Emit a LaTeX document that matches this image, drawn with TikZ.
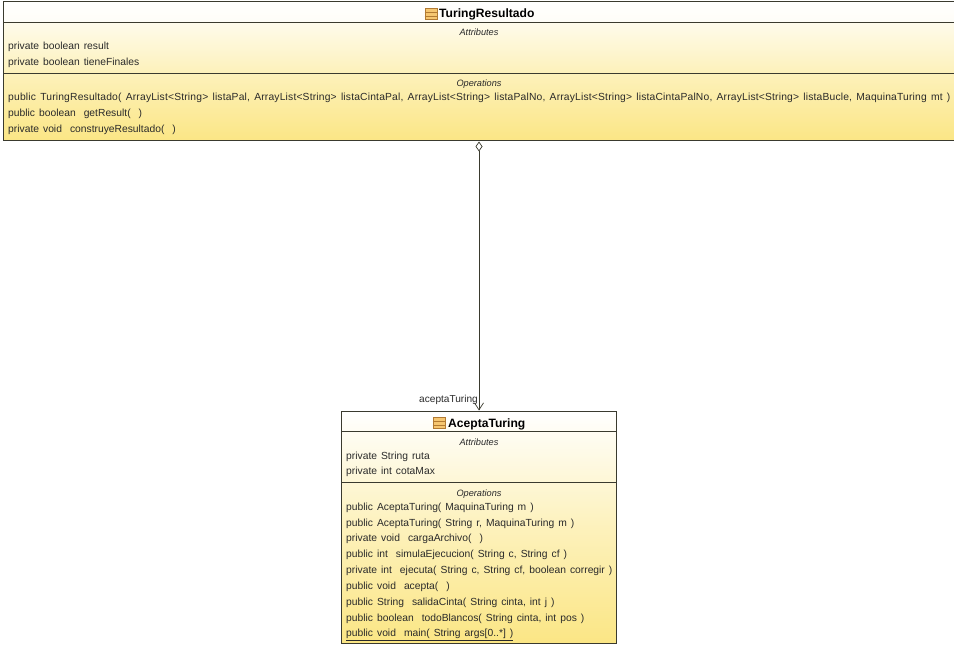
\documentclass[tikz,border=0pt]{standalone}
\usepackage{fontspec}
\setmainfont[WordSpace=1.4]{Liberation Sans}
\usetikzlibrary{arrows.meta}
\definecolor{umlyellow}{HTML}{FBE685}
\definecolor{umlline}{HTML}{3A3A2E}
\definecolor{icoF}{HTML}{F6C670}
\definecolor{icoL}{HTML}{B27A32}
\definecolor{txt}{HTML}{2A2A2A}
\tikzset{
  x=1pt,y=-1pt,
  classbox/.style={draw=umlline,line width=1pt,rectangle,inner sep=0pt,top color=white,bottom color=umlyellow,middle color=white!45!umlyellow},
  member/.style={anchor=base west,inner sep=0pt,font=\fontsize{10.3}{12}\selectfont,text=txt},
  header/.style={anchor=base,inner sep=0pt,font=\fontsize{9.2}{11}\selectfont\itshape,text=txt},
  classtitle/.style={anchor=base west,inner sep=0pt,font=\fontsize{12.1}{14}\selectfont\bfseries,text=black},
  divider/.style={draw=umlline,line width=.9pt},
  rolelabel/.style={anchor=base east,inner sep=0pt,font=\fontsize{10.1}{12}\selectfont,text=txt},
  assoc/.style={draw=umlline,line width=.7pt,{Diamond[open,length=10pt,width=7pt,fill=white]}-{Straight Barb[length=7pt,width=9pt,line width=.7pt]}},
  icon/.style={rectangle,draw=icoL,fill=icoF,line width=.6pt,minimum width=12pt,minimum height=11pt,inner sep=0pt}
}
\begin{document}
\begin{tikzpicture}
\useasboundingbox (0,0) rectangle (954,650);
% Class boxes
\node[classbox,minimum width=951pt,minimum height=139pt] (resultado) at (478.5,71.5) {};
\node[classbox,minimum width=275pt,minimum height=232pt] (acepta) at (479,527) {};
% TuringResultado
\fill[white,opacity=.6] (3.5,2.5) rectangle (953.5,22);
\node[icon] (icoR) at (431,14) {};
\draw[icoL,line width=.5pt] (icoR.west |- 0,12.5) -- (icoR.east |- 0,12.5) (icoR.west |- 0,16) -- (icoR.east |- 0,16);
\node[classtitle] (titleR) at (439,18) {TuringResultado};
\draw[divider] (3,22) -- (954,22);
\draw[divider] (3,73) -- (954,73);
\node[header] (attrR) at (479,36) {Attributes};
\node[member] (r1) at (8,50) {private boolean result};
\node[member] (r2) at (8,65.5) {private boolean tieneFinales};
\node[header] (opR) at (479,87) {Operations};
\node[member] (r3) at (8,101) {\addfontfeature{LetterSpace=1.75}public TuringResultado( ArrayList<String> listaPal, ArrayList<String> listaCintaPal, ArrayList<String> listaPalNo, ArrayList<String> listaCintaPalNo, ArrayList<String> listaBucle, MaquinaTuring mt )};
\node[member] (r4) at (8,117) {public boolean~~getResult(~~)};
\node[member] (r5) at (8,133) {private void~~construyeResultado(~~)};
% AceptaTuring
\node[icon] (icoA) at (439,423) {};
\draw[icoL,line width=.5pt] (icoA.west |- 0,421.5) -- (icoA.east |- 0,421.5) (icoA.west |- 0,425) -- (icoA.east |- 0,425);
\node[classtitle] (titleA) at (448,427) {AceptaTuring};
\draw[divider] (341.5,431) -- (616.5,431);
\draw[divider] (341.5,482.5) -- (616.5,482.5);
\node[header] (attrA) at (479,445) {Attributes};
\node[member] (a1) at (346,459) {private String ruta};
\node[member] (a2) at (346,474.5) {private int cotaMax};
\node[header] (opA) at (479,496) {Operations};
\node[member] (a3) at (346,510) {public AceptaTuring( MaquinaTuring m )};
\node[member] (a4) at (346,526) {public AceptaTuring( String r, MaquinaTuring m )};
\node[member] (a5) at (346,541.5) {private void~~cargaArchivo(~~)};
\node[member] (a6) at (346,557.5) {public int~~simulaEjecucion( String c, String cf )};
\node[member] (a7) at (346,573.5) {private int~~ejecuta( String c, String cf, boolean corregir )};
\node[member] (a8) at (346,589) {public void~~acepta(~~)};
\node[member] (a9) at (346,605) {public String~~salidaCinta( String cinta, int j )};
\node[member] (a10) at (346,621) {public boolean~~todoBlancos( String cinta, int pos )};
\node[member] (a11) at (346,636.5) {\underline{public void~~main( String args[0..*] )}};
% Association
\draw[assoc] (acepta.north |- resultado.south) -- (acepta.north);
\node[rolelabel] (role) at (478,402) {aceptaTuring};
\end{tikzpicture}
\end{document}
